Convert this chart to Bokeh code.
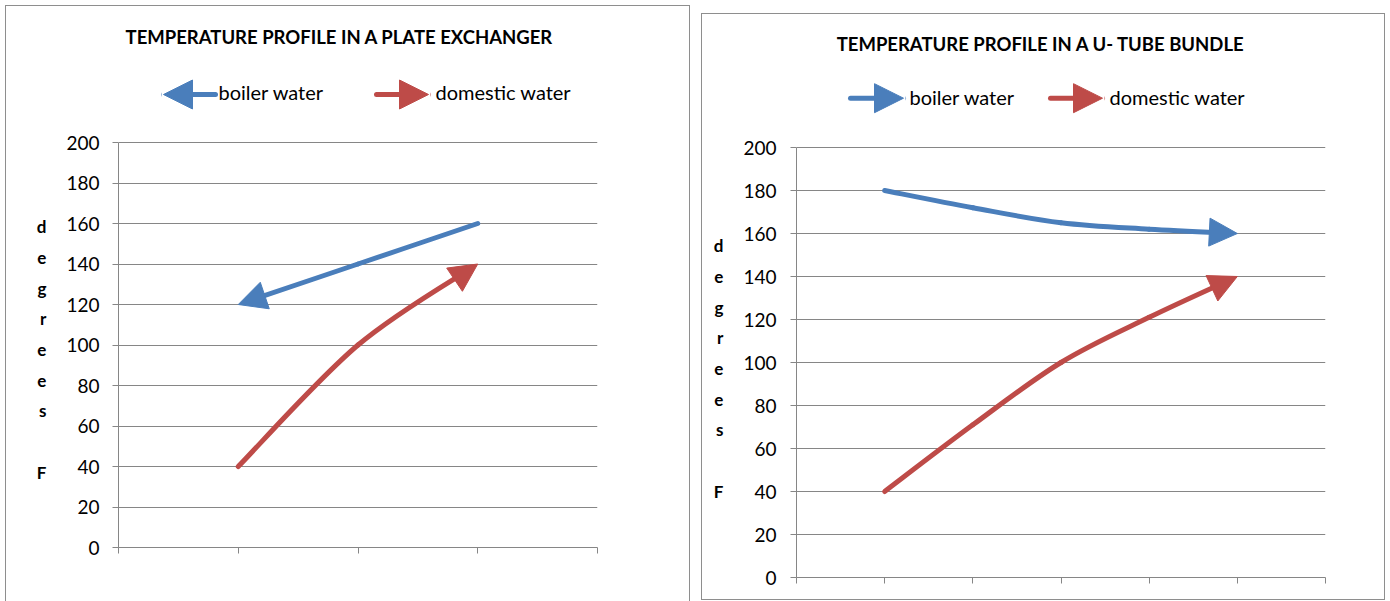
import numpy as np
from bokeh.plotting import figure
from bokeh.layouts import row, column
from bokeh.models import (Label, Arrow, NormalHead, FixedTicker, ColumnDataSource, Range1d,
                          Spacer)
from bokeh.embed import file_html
from bokeh.resources import INLINE

# ---------------- data ----------------
plate_title = "TEMPERATURE PROFILE IN A PLATE EXCHANGER"
utube_title = "TEMPERATURE PROFILE  IN A U- TUBE BUNDLE"
series_names = ["boiler water", "domestic water"]
y_ticks = [0, 20, 40, 60, 80, 100, 120, 140, 160, 180, 200]
y_axis_title = "d\ne\ng\nr\ne\ne\ns\n\nF"

# plate exchanger: boiler water flows from right to left (counter-flow)
plate_boiler_x = [3, 2, 1]
plate_boiler_y = [160, 140, 120]
plate_domestic_x = [1, 2, 3]
plate_domestic_y = [40, 100, 140]

# U-tube bundle: both flow left to right
utube_boiler_x = [1, 2, 3, 4, 5]
utube_boiler_y = [180, 172, 165, 162, 160]
utube_domestic_x = [1, 2, 3, 4, 5]
utube_domestic_y = [40, 71, 100, 121, 140]

BLUE = "#4A7EBB"
RED = "#BE4B48"
GRID = "#868686"
FONT = "Lato"


def smooth_segments(xs, ys):
    """Cubic Bezier control points for a smoothed line through the data points."""
    P = np.column_stack([xs, ys]).astype(float)
    n = len(P)
    segs = []
    for i in range(n - 1):
        p0 = P[max(i - 1, 0)]
        p1 = P[i]
        p2 = P[i + 1]
        p3 = P[min(i + 2, n - 1)]
        c1 = p1 + (p2 - p0) / 6.0
        c2 = p2 - (p3 - p1) / 6.0
        segs.append([p1, c1, c2, p2])
    return segs


def bez(seg, t):
    a, b, c, d = seg
    return ((1 - t) ** 3) * a + 3 * ((1 - t) ** 2) * t * b + 3 * (1 - t) * t * t * c + t ** 3 * d


def trim_last(seg, sx, sy, trim_px):
    """Shorten the last segment so the line ends under the arrow head."""
    end = seg[3]
    scale = np.array([sx, sy])
    lo, hi = 0.0, 1.0
    for _ in range(40):
        mid = (lo + hi) / 2
        dist = np.linalg.norm((bez(seg, mid) - end) * scale)
        if dist > trim_px:
            lo = mid
        else:
            hi = mid
    t = lo
    a, b, c, d = seg
    ab = a + (b - a) * t
    bc = b + (c - b) * t
    cd = c + (d - c) * t
    abc = ab + (bc - ab) * t
    bcd = bc + (cd - bc) * t
    abcd = abc + (bcd - abc) * t
    return [a, ab, abc, abcd]


def make_chart(title, title_pos, series, legend_spec, width, height, page_x, page_y,
               frame_left, frame_right, frame_top, frame_bottom, y200_page, n_x, standoff,
               ylab_standoff):
    fx0, fx1 = page_x + frame_left, page_x + width - frame_right
    fy_top, fy_bot = page_y + frame_top, page_y + height - frame_bottom
    y_top = 200.0 * (fy_bot - fy_top) / (fy_bot - y200_page)
    sx = (fx1 - fx0) / n_x
    sy = (fy_bot - y200_page) / 200.0

    def dx(px):
        return (px - fx0) / sx

    def dy(py):
        return (fy_bot - py) / sy

    p = figure(width=width, height=height, output_backend="svg", toolbar_location=None,
               title=None, x_range=Range1d(0, n_x), y_range=Range1d(0, y_top),
               min_border_left=frame_left, min_border_right=frame_right,
               min_border_top=frame_top, min_border_bottom=frame_bottom,
               background_fill_color="white", border_fill_color="white")
    p.outline_line_color = None
    p.xgrid.visible = False
    p.ygrid.grid_line_color = GRID
    p.ygrid.grid_line_width = 1
    p.ygrid.ticker = FixedTicker(ticks=y_ticks)

    p.yaxis.ticker = FixedTicker(ticks=y_ticks)
    p.yaxis.bounds = (0, 200)
    p.xaxis.ticker = FixedTicker(ticks=list(range(0, n_x + 1)))
    for ax in (p.xaxis[0], p.yaxis[0]):
        ax.axis_line_color = GRID
        ax.axis_line_width = 1
        ax.major_tick_line_color = GRID
        ax.major_tick_out = 6
        ax.major_tick_in = 0
        ax.minor_tick_line_color = None
    p.xaxis.major_label_text_color = None
    p.xaxis.major_label_text_font_size = "8px"
    p.xaxis.major_label_standoff = 0
    p.yaxis.major_label_text_font = FONT
    p.yaxis.major_label_text_font_size = "19px"
    p.yaxis.major_label_text_color = "#000000"
    p.yaxis.major_label_standoff = standoff

    # stacked vertical axis title (leading blank lines shift it down)
    p.yaxis.axis_label = "\n\n\n\n" + y_axis_title
    p.yaxis.axis_label_orientation = "horizontal"
    p.yaxis.axis_label_text_font = FONT
    p.yaxis.axis_label_text_font_style = "bold"
    p.yaxis.axis_label_text_font_size = "17px"
    p.yaxis.axis_label_text_color = "#000000"
    p.yaxis.axis_label_text_line_height = 1.461
    p.yaxis.axis_label_standoff = ylab_standoff

    # smoothed series with arrow heads at the end
    for xs, ys, color in series:
        segs = smooth_segments(xs, ys)
        last = segs[-1]
        head_from = last[2]
        segs[-1] = trim_last(last, sx, sy, 12.0)
        src = ColumnDataSource(dict(
            x0=[s[0][0] for s in segs], y0=[s[0][1] for s in segs],
            cx0=[s[1][0] for s in segs], cy0=[s[1][1] for s in segs],
            cx1=[s[2][0] for s in segs], cy1=[s[2][1] for s in segs],
            x1=[s[3][0] for s in segs], y1=[s[3][1] for s in segs]))
        p.bezier(x0="x0", y0="y0", x1="x1", y1="y1", cx0="cx0", cy0="cy0",
                 cx1="cx1", cy1="cy1", source=src,
                 line_color=color, line_width=5, line_cap="round")
        p.add_layout(Arrow(x_start=head_from[0], y_start=head_from[1],
                           x_end=xs[-1], y_end=ys[-1], line_alpha=0,
                           end=NormalHead(size=28, fill_color=color, line_color=color,
                                          line_width=1)))

    # title
    p.add_layout(Label(x=dx(title_pos[0]), y=dy(title_pos[1]), text=title,
                       text_align="center", text_baseline="middle",
                       text_font=FONT, text_font_style="bold", text_font_size="18.5px",
                       text_color="#000000"))

    # legend
    for (xs_, xe_, ly, tx, ty, name, color) in legend_spec:
        p.add_layout(Arrow(x_start=dx(xs_), y_start=dy(ly), x_end=dx(xe_), y_end=dy(ly),
                           line_color=color, line_width=5, line_cap="round",
                           end=NormalHead(size=29, fill_color=color, line_color=color,
                                          line_width=1)))
        p.add_layout(Label(x=dx(tx), y=dy(ty), text=name, text_align="left",
                           text_baseline="middle", text_font=FONT,
                           text_font_size="20px", text_color="#000000"))
    return p


# left chart: page y 6..569 (figure), border box continues to the window bottom
p1 = make_chart(
    plate_title, (339, 36.8),
    [(plate_boiler_x, plate_boiler_y, BLUE), (plate_domestic_x, plate_domestic_y, RED)],
    [(215, 163, 94, 218, 91.8, series_names[0], BLUE),
     (376, 428, 94, 435, 91.8, series_names[1], RED)],
    width=683, height=563, page_x=6, page_y=6,
    frame_left=112, frame_right=92, frame_top=22, frame_bottom=22, y200_page=142, n_x=4,
    standoff=13, ylab_standoff=17)
left_box = column(p1, Spacer(width=683, height=32), spacing=0)
left_box.styles = {"box-shadow": "0 0 0 1px #8e8e8e", "background": "white"}
left_box.margin = (6, 0, 0, 6)

# right chart: page y 14..599
p2 = make_chart(
    utube_title, (1042.8, 43.5),
    [(utube_boiler_x, utube_boiler_y, BLUE), (utube_domestic_x, utube_domestic_y, RED)],
    [(850, 903, 97.7, 909, 96.3, series_names[0], BLUE),
     (1050, 1102, 97.7, 1109, 96.3, series_names[1], RED)],
    width=682, height=585, page_x=702, page_y=14,
    frame_left=94, frame_right=59, frame_top=22, frame_bottom=22, y200_page=147, n_x=6,
    standoff=14, ylab_standoff=17)
p2.styles = {"box-shadow": "0 0 0 1px #8e8e8e"}
p2.margin = (14, 0, 0, 0)

layout = row(left_box, p2, spacing=13)
open("out.html", "w").write(file_html(layout, INLINE))
